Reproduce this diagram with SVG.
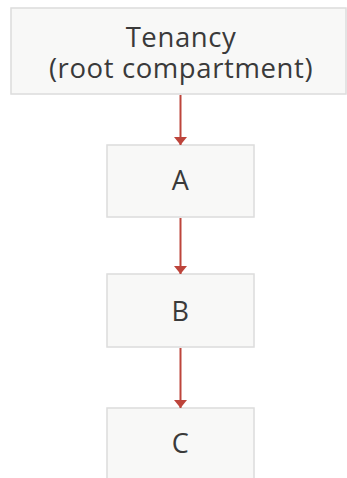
<svg xmlns="http://www.w3.org/2000/svg" width="347" height="478" viewBox="0 0 347 478">
<defs>
<marker id="ah" markerWidth="8" markerHeight="13" refX="8" refY="6.5" orient="auto" markerUnits="userSpaceOnUse">
<path d="M0,0 L8,6.5 L0,13 Z" fill="#bd443b"/>
</marker>
<style>
.box{fill:#f8f8f7;stroke:#dcdcdc;stroke-width:1.5}
.t{font-family:"Open Sans","Noto Sans",sans-serif;font-size:27px;fill:#3a3a3a;text-anchor:middle;letter-spacing:0.6px}
.h{font-size:27.5px}
.c{stroke:#bd443b;stroke-width:2;fill:none}
</style>
</defs>
<rect width="347" height="478" fill="#ffffff"/>
<g id="tenancy">
<rect class="box" x="11" y="8" width="335" height="86"/>
<text class="t h"><tspan x="181" y="47">Tenancy</tspan><tspan x="181" y="78">(root compartment)</tspan></text>
</g>
<g id="A">
<rect class="box" x="107" y="145" width="147" height="72"/>
<text class="t" x="180.5" y="190">A</text>
</g>
<g id="B">
<rect class="box" x="107" y="274" width="147" height="73"/>
<text class="t" x="180.5" y="321">B</text>
</g>
<g id="C">
<rect class="box" x="107" y="408" width="147" height="76"/>
<text class="t" x="180.5" y="453">C</text>
</g>
<g id="connectors">
<line class="c" x1="180.5" y1="95" x2="180.5" y2="145" marker-end="url(#ah)"/>
<line class="c" x1="180.5" y1="218" x2="180.5" y2="274" marker-end="url(#ah)"/>
<line class="c" x1="180.5" y1="348" x2="180.5" y2="408" marker-end="url(#ah)"/>
</g>
</svg>
